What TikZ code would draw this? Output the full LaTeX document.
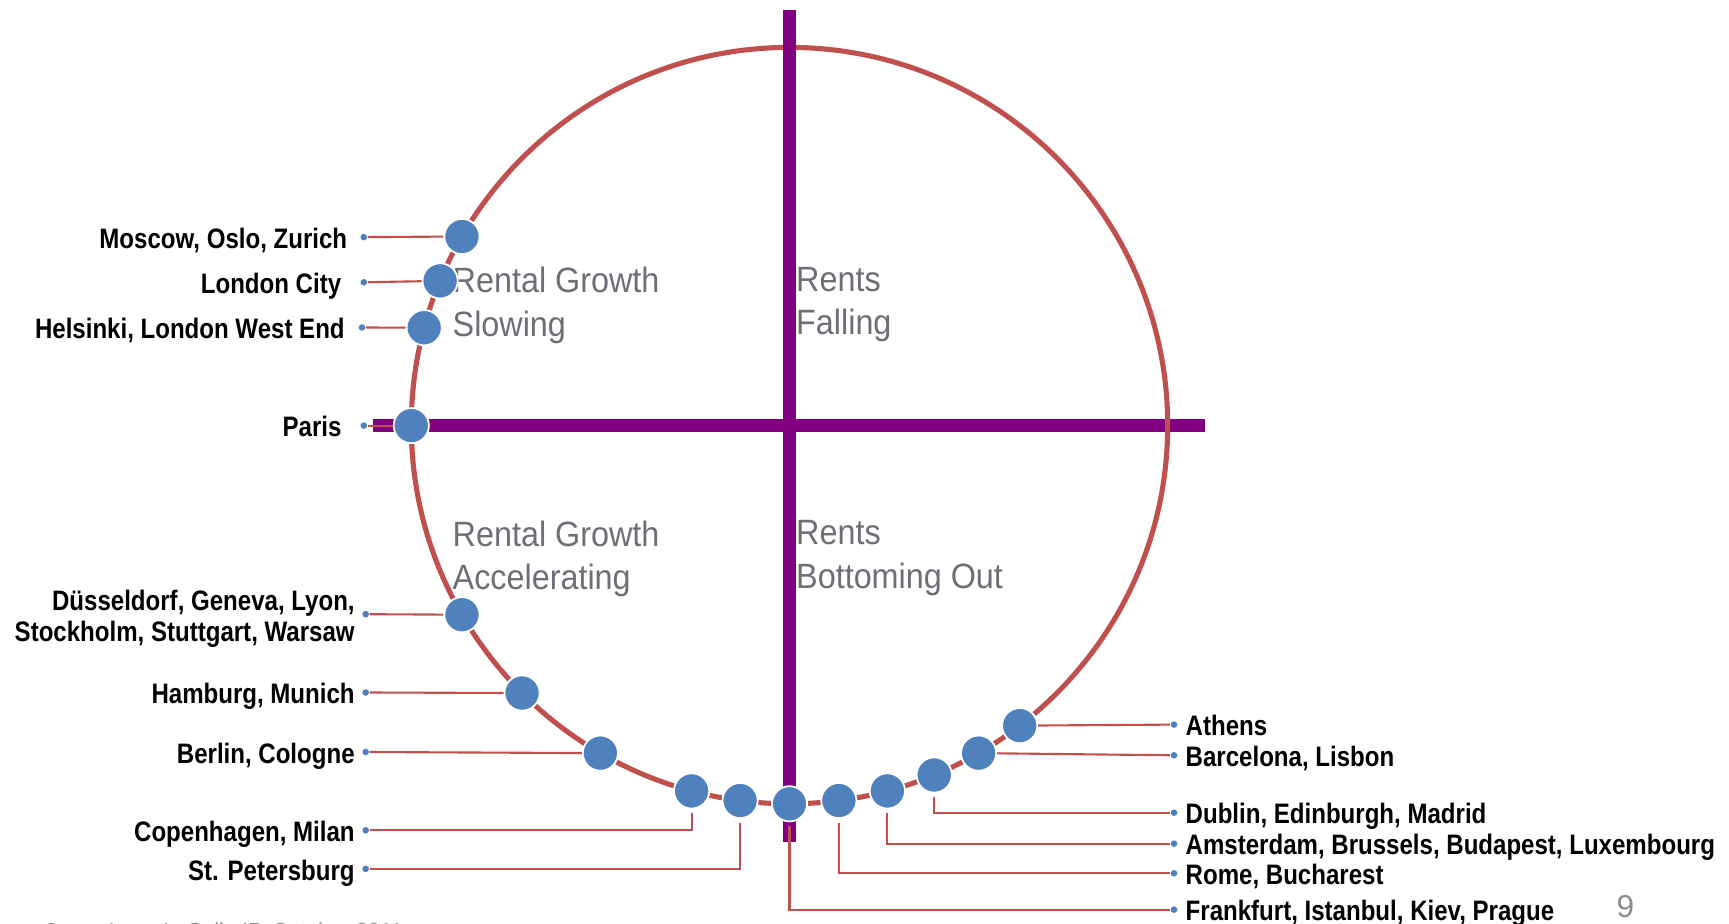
\documentclass[tikz,border=0pt]{standalone}
\usepackage{fontspec}
\setmainfont{Liberation Sans}
\newfontfamily\cityfont[FakeStretch=0.855]{Liberation Sans}
\newfontfamily\phasefont[FakeStretch=0.92]{Liberation Sans}

\definecolor{cycleRed}{RGB}{192,80,77}
\definecolor{dotBlue}{RGB}{79,129,189}
\definecolor{axisPurple}{RGB}{128,0,128}
\definecolor{phaseGray}{RGB}{108,111,117}
\definecolor{noteGray}{RGB}{140,140,140}

\begin{document}
\begin{tikzpicture}[x=0.01cm, y=0.01cm,
    axis/.style={axisPurple, line width=3.7pt},
    city/.style={circle, fill=dotBlue, draw=white, line width=0.5pt,
      minimum size=0.352cm, inner sep=0pt},
    pin/.style={circle, fill=dotBlue, minimum size=0.066cm, inner sep=0pt},
    lead/.style={cycleRed, line width=0.6pt},
    cityname/.style={font=\fontsize{8}{8.8}\cityfont\bfseries, inner sep=0pt},
    phase/.style={font=\fontsize{10}{12.3}\phasefont, text=phaseGray,
      align=left, inner sep=0pt, anchor=north west}]
    \clip (-789.5,-498.4) rectangle (939.5,425.6);

    % Axes and the clock ring
    \draw[axis] (-416,0) -- (416,0);
    \draw[cycleRed, line width=1.45pt] (0,0) circle (378.2);
    \draw[axis] (0,416) -- (0,-416);

    % Quadrant names
    \node[phase] (slowing) at (-337.5,158.9) {Rental Growth\\Slowing};
    \node[phase] (falling) at (6,158.9) {Rents\\Falling};
    \node[phase] (accel) at (-337.5,-94.5) {Rental Growth\\Accelerating};
    \node[phase] (bottom) at (6,-94.5) {Rents\\Bottoming Out};

    % Cities on the ring
    \node[city] (moscow) at (150:378.2) {};
    \node[city] (londonCity) at (157.5:378.2) {};
    \node[city] (helsinki) at (165:378.2) {};
    \node[city] (paris) at (180:378.2) {};
    \node[city] (dusseldorf) at (210:378.2) {};
    \node[city] (hamburg) at (225:378.2) {};
    \node[city] (berlin) at (240:378.2) {};
    \node[city] (copenhagen) at (255:378.2) {};
    \node[city] (stPetersburg) at (262.5:378.2) {};
    \node[city] (frankfurt) at (270:378.2) {};
    \node[city] (rome) at (277.5:378.2) {};
    \node[city] (amsterdam) at (285:378.2) {};
    \node[city] (dublin) at (292.5:378.2) {};
    \node[city] (barcelona) at (300:378.2) {};
    \node[city] (athens) at (307.5:378.2) {};

    % Left hand labels
    \node[pin] (moscowPin) at (-425.7,188.5) {};
    \node[cityname, anchor=base east] (moscowName)
      at ([xshift=-3.4pt, yshift=-3.2pt]moscowPin.west) {Moscow, Oslo, Zurich};
    \draw[lead] (moscowPin) -- (moscow);

    \node[pin] (londonCityPin) at (-425.7,143.3) {};
    \node[cityname, anchor=base east] (londonCityName)
      at ([xshift=-5.1pt, yshift=-3.2pt]londonCityPin.west) {London City};
    \draw[lead] (londonCityPin) -- (londonCity);

    \node[pin] (helsinkiPin) at (-427.5,98.1) {};
    \node[cityname, anchor=base east] (helsinkiName)
      at ([xshift=-3.6pt, yshift=-3.2pt]helsinkiPin.west) {Helsinki, London West End};
    \draw[lead] (helsinkiPin) -- (helsinki);

    \node[pin] (parisPin) at (-425.7,0) {};
    \node[cityname, anchor=base east] (parisName)
      at ([xshift=-5pt, yshift=-3.2pt]parisPin.west) {Paris};
    \draw[lead] (parisPin) -- (paris);

    \node[pin] (dusseldorfPin) at (-423.8,-188.6) {};
    \node[cityname, anchor=east, align=right] (dusseldorfName)
      at ([xshift=-1.8pt, yshift=-1.2pt]dusseldorfPin.west)
      {Düsseldorf, Geneva, Lyon,\\Stockholm, Stuttgart, Warsaw};
    \draw[lead] (dusseldorfPin) -- (dusseldorf);

    \node[pin] (hamburgPin) at (-423.8,-266.9) {};
    \node[cityname, anchor=base east] (hamburgName)
      at ([xshift=-1.8pt, yshift=-3.2pt]hamburgPin.west) {Hamburg, Munich};
    \draw[lead] (hamburgPin) -- (hamburg);

    \node[pin] (berlinPin) at (-423.8,-326.4) {};
    \node[cityname, anchor=base east] (berlinName)
      at ([xshift=-1.8pt, yshift=-3.2pt]berlinPin.west) {Berlin, Cologne};
    \draw[lead] (berlinPin) -- (berlin);

    \node[pin] (copenhagenPin) at (-423.8,-404.7) {};
    \node[cityname, anchor=base east] (copenhagenName)
      at ([xshift=-1.8pt, yshift=-3.2pt]copenhagenPin.west) {Copenhagen, Milan};
    \draw[lead, shorten >=1pt] (copenhagenPin) -| (copenhagen);

    \node[pin] (stPetersburgPin) at (-423.8,-443.3) {};
    \node[cityname, anchor=base east] (stPetersburgName)
      at ([xshift=-1.8pt, yshift=-3.2pt]stPetersburgPin.west) {St. Petersburg};
    \draw[lead, shorten >=1pt] (stPetersburgPin) -| (stPetersburg);

    % Right hand labels
    \node[pin] (athensPin) at (384.5,-299) {};
    \node[cityname, anchor=base west] (athensName)
      at ([xshift=2pt, yshift=-3.2pt]athensPin.east) {Athens};
    \draw[lead] (athensPin) -- (athens);

    \node[pin] (barcelonaPin) at (384.5,-329.7) {};
    \node[cityname, anchor=base west] (barcelonaName)
      at ([xshift=2pt, yshift=-3.2pt]barcelonaPin.east) {Barcelona, Lisbon};
    \draw[lead] (barcelonaPin) -- (barcelona);

    \node[pin] (dublinPin) at (384.5,-387.1) {};
    \node[cityname, anchor=base west] (dublinName)
      at ([xshift=2pt, yshift=-3.2pt]dublinPin.east) {Dublin, Edinburgh, Madrid};
    \draw[lead, shorten >=1pt] (dublinPin) -| (dublin);

    \node[pin] (amsterdamPin) at (384.5,-418) {};
    \node[cityname, anchor=base west] (amsterdamName)
      at ([xshift=2pt, yshift=-3.2pt]amsterdamPin.east)
      {Amsterdam, Brussels, Budapest, Luxembourg};
    \draw[lead, shorten >=1pt] (amsterdamPin) -| (amsterdam);

    \node[pin] (romePin) at (384.5,-447.7) {};
    \node[cityname, anchor=base west] (romeName)
      at ([xshift=2pt, yshift=-3.2pt]romePin.east) {Rome, Bucharest};
    \draw[lead, shorten >=1pt] (romePin) -| (rome);

    \node[pin] (frankfurtPin) at (384.5,-484.1) {};
    \node[cityname, anchor=base west] (frankfurtName)
      at ([xshift=2pt, yshift=-3.2pt]frankfurtPin.east)
      {Frankfurt, Istanbul, Kiev, Prague};
    \draw[lead, shorten >=1pt] (frankfurtPin) -| (frankfurt);

    % Page number and source line
    \node[text=noteGray, font=\fontsize{9}{10}\selectfont, inner sep=0pt]
      (pageNo) at (835.9,-480.8) {9};
    \node[text=noteGray, font=\fontsize{6.2}{7}\selectfont, inner sep=0pt,
      anchor=base west] (source) at (-745.5,-513) {Jones Lang LaSalle IP, October 2011};
\end{tikzpicture}
\end{document}
